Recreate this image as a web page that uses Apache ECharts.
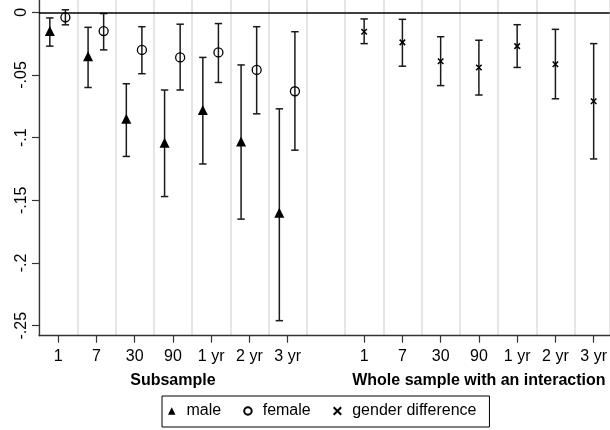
<!DOCTYPE html>
<html><head><meta charset="utf-8">
<script src="https://cdn.jsdelivr.net/npm/echarts@6/dist/echarts.min.js"></script>
<style>html,body{margin:0;padding:0;background:#fff}#c{width:610px;height:430px}</style>
</head><body><div id="c"></div>
<script>
// ---- data ----
const categories = ['1', '7', '30', '90', '1 yr', '2 yr', '3 yr'];
const maleEst   = [-0.015, -0.035, -0.085, -0.104, -0.078, -0.103, -0.160];
const maleLo    = [-0.027, -0.060, -0.115, -0.147, -0.121, -0.165, -0.246];
const maleHi    = [-0.0045, -0.012, -0.057, -0.062, -0.036, -0.042, -0.077];
const femaleEst = [-0.004, -0.015, -0.030, -0.036, -0.032, -0.046, -0.063];
const femaleLo  = [-0.010, -0.030, -0.049, -0.062, -0.056, -0.081, -0.110];
const femaleHi  = [0.002, -0.001, -0.0115, -0.0095, -0.009, -0.0115, -0.0155];
const diffEst   = [-0.0155, -0.024, -0.039, -0.044, -0.027, -0.0415, -0.071];
const diffLo    = [-0.025, -0.043, -0.0585, -0.066, -0.044, -0.069, -0.117];
const diffHi    = [-0.0053, -0.0056, -0.0195, -0.0223, -0.0099, -0.0136, -0.025];
const yTickValues = [0, -0.05, -0.1, -0.15, -0.2, -0.25];
const yTickLabels = ['0', '-.05', '-.1', '-.15', '-.2', '-.25'];
const groupTitles = ['Subsample', 'Whole sample with an interaction'];
const legendNames = ['male', 'female', 'gender difference'];

// ---- layout helpers ----
const FONT = "'Liberation Sans', Arial, Helvetica, sans-serif";
const INK = '#1a1a1a';
const leftStart = 0.5, rightStart = 8.5;          // slot position of first category in each group
const maleOff = -0.217, femaleOff = 0.19;
const slotLeft  = categories.map((c, i) => leftStart + i);
const slotRight = categories.map((c, i) => rightStart + i);
const tickPositions = slotLeft.concat(slotRight);
const tickTexts = categories.concat(categories);

const maleX = slotLeft.map(x => x + maleOff);
const femaleX = slotLeft.map(x => x + femaleOff);

const pts = (xs, ys) => xs.map((x, i) => [x, ys[i]]);
const bars = (xs, lo, hi) => xs.map((x, i) => [x, lo[i], hi[i]]);

function renderBar(params, api) {
  const x = api.value(0);
  const a = api.coord([x, api.value(1)]);
  const b = api.coord([x, api.value(2)]);
  const w = 3.7;
  const st = { stroke: INK, lineWidth: 1.5 };
  return { type: 'group', children: [
    { type: 'line', shape: { x1: a[0], y1: a[1], x2: b[0], y2: b[1] }, style: st },
    { type: 'line', shape: { x1: a[0] - w, y1: a[1], x2: a[0] + w, y2: a[1] }, style: st },
    { type: 'line', shape: { x1: b[0] - w, y1: b[1], x2: b[0] + w, y2: b[1] }, style: st }
  ]};
}
function barSeries(name, data) {
  return { name: name, type: 'custom', renderItem: renderBar, data: data,
    encode: { x: 0, y: [1, 2] }, xAxisIndex: 0, yAxisIndex: 0, silent: true, z: 2 };
}
const xMark = 'path://M0,0L10,10M10,0L0,10';

const chart = echarts.init(document.getElementById('c'), null, { renderer: 'canvas' });
const option = {
  animation: false,
  backgroundColor: '#fff',
  textStyle: { fontFamily: FONT },
  grid: { left: 39, right: 0, top: 0, bottom: 94.3, containLabel: false },
  xAxis: [
    { type: 'value', min: 0, max: 14.92, interval: 1, position: 'bottom',
      axisLine: { show: false }, axisTick: { show: false }, axisLabel: { show: false },
      splitLine: { show: true, lineStyle: { color: '#dcdcdc', width: 1.5 } } },
    { type: 'value', min: 0, max: 14.92, position: 'bottom',
      axisLine: { show: true, onZero: false, lineStyle: { color: '#333', width: 1.3 } },
      axisTick: { show: true, length: 7, customValues: tickPositions, lineStyle: { color: '#333', width: 1.2 } },
      axisLabel: { show: true, customValues: tickPositions, margin: 13, fontSize: 16, color: '#000', fontFamily: FONT,
        formatter: v => { const k = tickPositions.findIndex(p => Math.abs(p - v) < 1e-6); return k >= 0 ? tickTexts[k] : ''; } },
      splitLine: { show: false } }
  ],
  yAxis: {
    type: 'value', min: -0.258, max: 0.0098,
    axisLine: { show: true, lineStyle: { color: '#333', width: 1.3 } },
    axisTick: { show: true, length: 7, customValues: yTickValues, lineStyle: { color: '#333', width: 1.2 } },
    axisLabel: { show: true, customValues: yTickValues, rotate: 90, margin: 9, fontSize: 16, color: '#000', fontFamily: FONT,
      formatter: v => { const k = yTickValues.findIndex(p => Math.abs(p - v) < 1e-9); return k >= 0 ? yTickLabels[k] : ''; } },
    splitLine: { show: false }
  },
  legend: {
    data: legendNames, left: 162, top: 396, orient: 'horizontal',
    borderColor: '#000', borderWidth: 1, padding: [7, 13, 8, 6], itemGap: 22,
    itemWidth: 7.5, itemHeight: 7.5,
    textStyle: { fontSize: 16, color: '#000', fontFamily: FONT, padding: [0, 0, 0, 6] }
  },
  series: [
    barSeries('maleCI', bars(maleX, maleLo, maleHi)),
    barSeries('femaleCI', bars(femaleX, femaleLo, femaleHi)),
    barSeries('diffCI', bars(slotRight, diffLo, diffHi)),
    { name: legendNames[0], type: 'scatter', data: pts(maleX, maleEst), symbol: 'triangle', symbolSize: 10, z: 4,
      itemStyle: { color: '#000', opacity: 1 },
      markLine: { silent: true, symbol: 'none', label: { show: false },
        lineStyle: { color: '#000', width: 1.5, type: 'solid' }, data: [{ yAxis: 0 }] } },
    { name: legendNames[1], type: 'scatter', data: pts(femaleX, femaleEst), symbol: 'circle', symbolSize: 9, z: 4,
      itemStyle: { color: 'rgba(0,0,0,0)', borderColor: '#000', borderWidth: 1.3, opacity: 1 } },
    { name: legendNames[2], type: 'scatter', data: pts(slotRight, diffEst), symbol: xMark, symbolSize: 5.5, z: 4,
      itemStyle: { color: '#000', borderColor: '#000', borderWidth: 1.5, opacity: 1 } }
  ]
};
chart.setOption(option);

const titleY = 380.7;
const cx1 = chart.convertToPixel({ xAxisIndex: 0 }, (slotLeft[0] + slotLeft[slotLeft.length - 1]) / 2);
const cx2 = chart.convertToPixel({ xAxisIndex: 0 }, (slotRight[0] + slotRight[slotRight.length - 1]) / 2);
chart.setOption({ graphic: [
  { type: 'text', style: { text: groupTitles[0], x: cx1, y: titleY, align: 'center', verticalAlign: 'middle',
      font: 'bold 16px ' + FONT, fill: '#000' } },
  { type: 'text', style: { text: groupTitles[1], x: cx2, y: titleY, align: 'center', verticalAlign: 'middle',
      font: 'bold 16px ' + FONT, fill: '#000' } }
]});
</script>
</body></html>
